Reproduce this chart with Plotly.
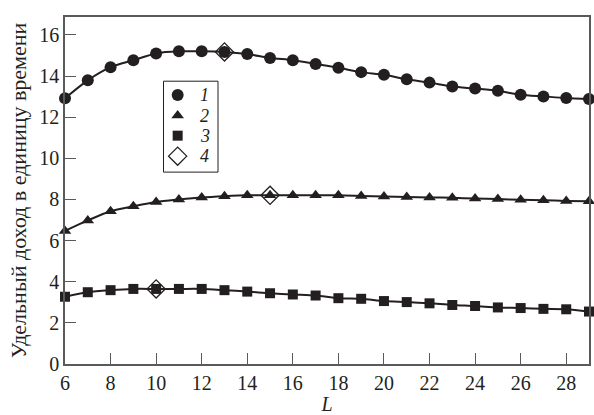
import plotly.graph_objects as go

# Length parameter L
L = list(range(6, 30))

# Specific income per unit time for the three regimes
income_1 = [12.92, 13.79, 14.43, 14.77, 15.10, 15.20, 15.20, 15.17, 15.07, 14.88,
            14.77, 14.59, 14.40, 14.19, 14.06, 13.84, 13.68, 13.49, 13.39, 13.28,
            13.09, 13.01, 12.93, 12.88]
income_2 = [6.47, 6.98, 7.43, 7.67, 7.88, 8.00, 8.10, 8.16, 8.20, 8.20,
            8.20, 8.20, 8.20, 8.17, 8.14, 8.12, 8.10, 8.08, 8.04, 8.02,
            7.98, 7.96, 7.93, 7.91]
income_3 = [3.27, 3.49, 3.59, 3.65, 3.65, 3.65, 3.65, 3.59, 3.52, 3.44,
            3.38, 3.33, 3.20, 3.17, 3.06, 3.01, 2.95, 2.87, 2.82, 2.75,
            2.72, 2.68, 2.66, 2.55]

# Optimum points (open diamonds)
opt_L = [13, 15, 10]
opt_income = [15.17, 8.20, 3.65]

legend_names = ["1", "2", "3", "4"]
x_ticks = list(range(6, 29, 2))
y_ticks = list(range(0, 17, 2))

INK = "#231f20"
FRAME = "#5a5a5a"
FONT = "Liberation Serif"

MARKERS = [
    dict(symbol="circle", size=12, color=INK),
    dict(symbol="triangle-up", size=11, color=INK),
    dict(symbol="square", size=10, color=INK),
    dict(symbol="diamond-open", size=14, color=INK, line=dict(width=1.3, color=INK)),
]

fig = go.Figure()

for values, mk in zip([income_1, income_2, income_3], MARKERS[:3]):
    fig.add_trace(go.Scatter(
        x=L, y=values, mode="lines+markers",
        line=dict(color=INK, width=2, shape="spline", smoothing=0.8),
        marker=mk, showlegend=False, cliponaxis=False,
    ))

fig.add_trace(go.Scatter(
    x=opt_L, y=opt_income, mode="markers", marker=MARKERS[3],
    showlegend=False, cliponaxis=False,
))

# Boxed key drawn on an overlay axis spanning the plot area in [0, 1]
key_x_marker = 0.215
key_x_label = 0.267
key_rows = [0.775, 0.716, 0.658, 0.599]
for name, mk, ky in zip(legend_names, MARKERS, key_rows):
    fig.add_trace(go.Scatter(
        x=[key_x_marker], y=[ky], mode="markers", marker=mk,
        xaxis="x2", yaxis="y2", showlegend=False, hoverinfo="skip",
    ))
    fig.add_annotation(
        x=key_x_label, y=ky, xref="x2", yref="y2", text=name, showarrow=False,
        font=dict(family=FONT, size=18, color=INK, style="italic"),
        xanchor="center", yanchor="middle", borderpad=0,
    )
fig.add_shape(
    type="rect", xref="x2", yref="y2", x0=0.188, x1=0.292, y0=0.553, y1=0.815,
    line=dict(color=INK, width=1), fillcolor="rgba(0,0,0,0)", layer="below",
)

axis_common = dict(
    showline=True, linecolor=FRAME, linewidth=1.5, mirror=True,
    showgrid=False, zeroline=False,
    ticks="inside", ticklen=11, tickcolor=FRAME, tickwidth=1.3,
    tickfont=dict(family=FONT, size=20, color=INK),
)

fig.update_layout(
    width=594, height=415,
    margin=dict(l=65, r=3, t=17, b=47),
    paper_bgcolor="white", plot_bgcolor="white",
    showlegend=False,
    xaxis=dict(
        range=[6, 29], tickvals=x_ticks, ticktext=[str(v) for v in x_ticks],
        title=dict(text="L", font=dict(family=FONT, size=20, color=INK, style="italic"), standoff=4),
        **axis_common,
    ),
    yaxis=dict(
        range=[0, 16.87], tickvals=y_ticks, ticktext=[str(v) for v in y_ticks],
        title=dict(text="Удельный доход в единицу времени",
                   font=dict(family=FONT, size=22, color=INK), standoff=7),
        **axis_common,
    ),
    xaxis2=dict(range=[0, 1], overlaying="x", visible=False, fixedrange=True),
    yaxis2=dict(range=[0, 1], overlaying="y", visible=False, fixedrange=True),
)

fig.write_html("out.html")
